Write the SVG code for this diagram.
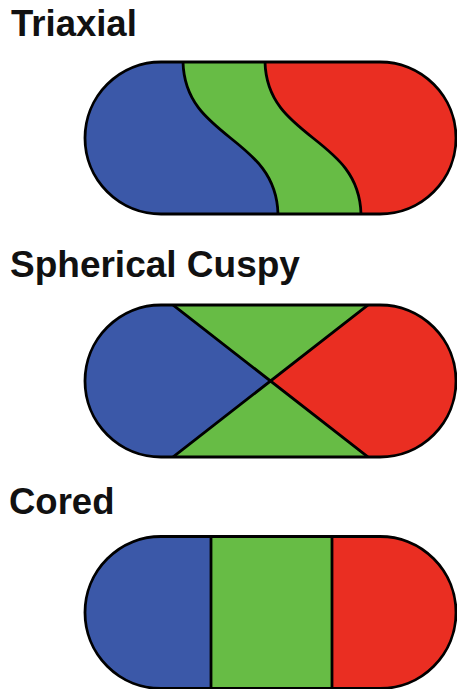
<svg xmlns="http://www.w3.org/2000/svg" width="457" height="689" viewBox="0 0 457 689">
  <style>
    .title { font-family: "Liberation Sans", Arial, sans-serif; font-weight: bold; font-size: 36.5px; fill: #111; }
    .blue { fill: #3b58a8; }
    .green { fill: #67bc45; }
    .red { fill: #ea2e22; }
    .edge { fill: none; stroke: #000; stroke-width: 2.8; stroke-linejoin: round; }
  </style>
  <defs>
    <!-- capsule outline, centred on its own origin: half-width 185.5, radius 76 -->
    <path id="capsule" d="M -109.5 -76 H 109.5 A 76 76 0 0 1 109.5 76 H -109.5 A 76 76 0 0 1 -109.5 -76 Z"/>
    <clipPath id="clip1"><use href="#capsule" transform="translate(270.5 138)"/></clipPath>
    <clipPath id="clip2"><use href="#capsule" transform="translate(270.5 381)"/></clipPath>
    <clipPath id="clip3"><use href="#capsule" transform="translate(270.5 612.5)"/></clipPath>
  </defs>

  <!-- Triaxial -->
  <g id="triaxial">
    <text class="title" x="11" y="36">Triaxial</text>
    <g clip-path="url(#clip1)">
      <rect class="red" x="80" y="55" width="380" height="165"/>
      <path class="green" d="M 80 55 H 265 L 265 62 C 267 140 359 136 361 214 L 361 220 H 80 Z"/>
      <path class="blue" d="M 80 55 H 183 L 183 62 C 185 140 276 136 278 214 L 278 220 H 80 Z"/>
      <path class="edge" d="M 183 60 L 183 62 C 185 140 276 136 278 214 L 278 216"/>
      <path class="edge" d="M 265 60 L 265 62 C 267 140 359 136 361 214 L 361 216"/>
    </g>
    <use href="#capsule" class="edge" transform="translate(270.5 138)"/>
  </g>

  <!-- Spherical Cuspy: two diagonals crossing at the centre -->
  <g id="spherical-cuspy">
    <text class="title" x="10" y="277" style="font-size:37px">Spherical Cuspy</text>
    <g clip-path="url(#clip2)">
      <rect class="green" x="80" y="300" width="380" height="165"/>
      <path class="blue" d="M 80 300 H 166.6 L 270.5 381 L 166.6 462 H 80 Z"/>
      <path class="red" d="M 460 300 H 374.4 L 270.5 381 L 374.4 462 H 460 Z"/>
      <path class="edge" d="M 166.6 300 L 374.4 462 M 374.4 300 L 166.6 462"/>
    </g>
    <use href="#capsule" class="edge" transform="translate(270.5 381)"/>
  </g>

  <!-- Cored -->
  <g id="cored">
    <text class="title" x="9" y="514">Cored</text>
    <g clip-path="url(#clip3)">
      <rect class="blue" x="80" y="530" width="131" height="165"/>
      <rect class="green" x="211" y="530" width="121" height="165"/>
      <rect class="red" x="332" y="530" width="128" height="165"/>
      <path class="edge" d="M 211 530 V 695 M 332 530 V 695"/>
    </g>
    <use href="#capsule" class="edge" transform="translate(270.5 612.5)"/>
  </g>
</svg>
